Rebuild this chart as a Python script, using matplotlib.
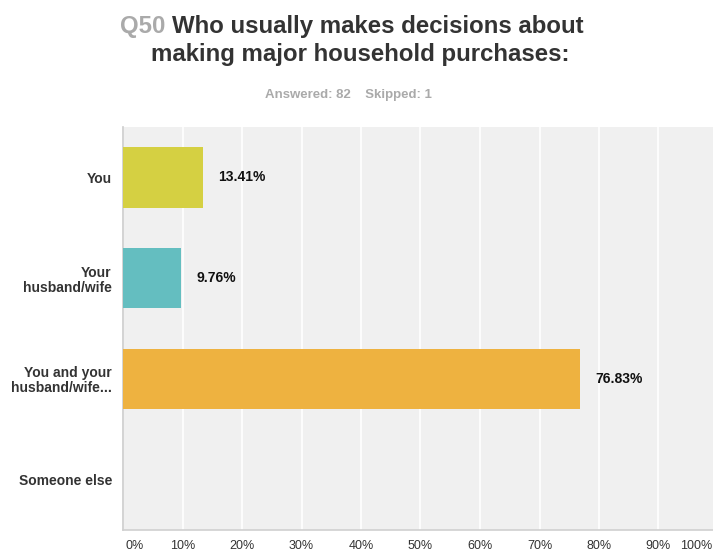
import matplotlib.pyplot as plt
from matplotlib.transforms import ScaledTranslation

plt.rcParams['font.family'] = ['Liberation Sans', 'DejaVu Sans']

# datos
categorias = ['You', 'Your\nhusband/wife', 'You and your\nhusband/wife...', 'Someone else']
porcentajes = [13.41, 9.76, 76.83, 0.0]
colores = ['#d5d042', '#64bec0', '#eeb240', '#999999']
ticks = [0, 10, 20, 30, 40, 50, 60, 70, 80, 90, 100]
tick_labels = ['0%', '10%', '20%', '30%', '40%', '50%', '60%', '70%', '80%', '90%', '100%']

W, H = 713, 552
fig = plt.figure(figsize=(W / 100, H / 100), dpi=100)
fig.patch.set_facecolor('white')

# el area del grafico se sale un poco por la derecha, como en el original
ax = fig.add_axes([123 / W, 1 - 530 / H, 595 / W, 403 / H])
ax.set_facecolor('#f0f0f0')

y = list(range(len(categorias)))
ax.barh(y, porcentajes, height=0.6, color=colores, zorder=3)
ax.set_ylim(len(categorias) - 0.5, -0.5)
ax.set_xlim(0, 100)

for i, v in enumerate(porcentajes):
    if v > 0:
        ax.annotate(f'{v:.2f}%', (v, i), xytext=(11, 0), textcoords='offset points',
                    va='center', ha='left', fontsize=10, fontweight='bold', color='#111111')

ax.set_yticks(y)
ax.set_yticklabels(categorias, fontsize=10, fontweight='bold', color='#333333',
                   linespacing=1.1)
ax.set_xticks(ticks)
ax.set_xticklabels(tick_labels, fontsize=9, color='#333333')
ax.tick_params(axis='both', length=0)
ax.tick_params(axis='y', pad=8)
ax.tick_params(axis='x', pad=7)

# 0% y 100% quedan dentro de la figura
lbls = ax.get_xticklabels()
lbls[0].set_ha('left')
lbls[0].set_transform(lbls[0].get_transform() + ScaledTranslation(2 / 72, 0, fig.dpi_scale_trans))
lbls[-1].set_ha('right')
lbls[-1].set_transform(lbls[-1].get_transform() + ScaledTranslation(-4 / 72, 0, fig.dpi_scale_trans))

ax.grid(axis='x', color='white', linewidth=1.2, zorder=1)
for s in ['top', 'right']:
    ax.spines[s].set_visible(False)
ax.spines['left'].set_color('#cccccc')
ax.spines['bottom'].set_color('#d0d0d0')
ax.spines['left'].set_linewidth(1.2)
ax.spines['bottom'].set_linewidth(1.2)

# titulo con "Q50" en gris
renderer = fig.canvas.get_renderer()
y1 = 1 - 26 / H
t_q = fig.text(0, y1, 'Q50 ', fontsize=17.3, fontweight='bold', color='#aaaaaa', va='center', ha='left')
t_r = fig.text(0, y1, 'Who usually makes decisions about', fontsize=17.3, fontweight='bold',
               color='#333333', va='center', ha='left')
wq = t_q.get_window_extent(renderer).width
wr = t_r.get_window_extent(renderer).width
x0 = 352 - (wq + wr) / 2
t_q.set_x(x0 / W)
t_r.set_x((x0 + wq) / W)
fig.text(360 / W, 1 - 54 / H, 'making major household purchases:', fontsize=17.3,
         fontweight='bold', color='#333333', va='center', ha='center')
fig.text(348 / W, 1 - 95 / H, 'Answered: 82    Skipped: 1', fontsize=9.5, fontweight='bold',
         color='#aaaaaa', va='center', ha='center')

fig.savefig('out.png', dpi=100)
